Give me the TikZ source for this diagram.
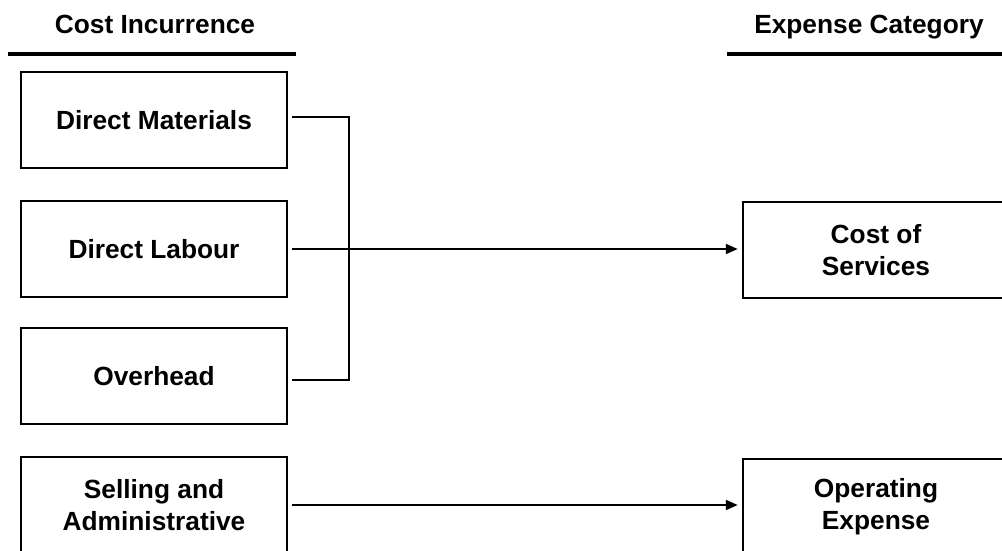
\documentclass[tikz,border=0pt]{standalone}
\usepackage{fontspec}
\setmainfont{Liberation Sans}
\usetikzlibrary{arrows.meta}
\begin{document}
\begin{tikzpicture}[x=1pt,y=-1pt,
  every node/.style={font=\fontsize{26.3}{32}\selectfont\bfseries},
  costbox/.style={draw, line width=2pt, minimum width=266.5pt, minimum height=96pt,
    inner sep=0pt, align=center},
  heading/.style={inner sep=0pt, anchor=base},
  rule/.style={line width=3.2pt},
  link/.style={line width=2pt},
  flow/.style={link, -{Triangle[length=12pt,width=10pt]}}]
\useasboundingbox (0,0) rectangle (1002,550);

% column headings with their rules
\node[heading] (hcost) at (155,33) {Cost Incurrence};
\node[heading] (hexp) at (869,33) {Expense Category};
\draw[rule] (8,54) -- (296,54);
\draw[rule] (727,54) -- (1002,54);

% cost items
\node[costbox] (dm) at (154,120) {Direct Materials};
\node[costbox] (dl) at (154,249) {Direct Labour};
\node[costbox] (oh) at (154,376) {Overhead};
\node[costbox] (sa) at (154,505) {Selling and\\Administrative};

% expense categories
\node[costbox] (cos) at (876,250) {Cost of\\Services};
\node[costbox] (oe) at (876,507) {Operating\\Expense};

% product costs joined by a bracket
\coordinate (ja) at (349,117);
\coordinate (jb) at (349,380);
\draw[link] ([xshift=4pt,yshift=3pt]dm.east) -- (ja) -- (jb) -- ([xshift=4pt,yshift=-4pt]oh.east);

% flows into the expense categories
\draw[flow] ([xshift=4pt]dl.east) -- ([xshift=-4pt]dl.east -| cos.west);
\draw[flow] ([xshift=4pt]sa.east) -- ([xshift=-4pt]sa.east -| oe.west);
\end{tikzpicture}
\end{document}
